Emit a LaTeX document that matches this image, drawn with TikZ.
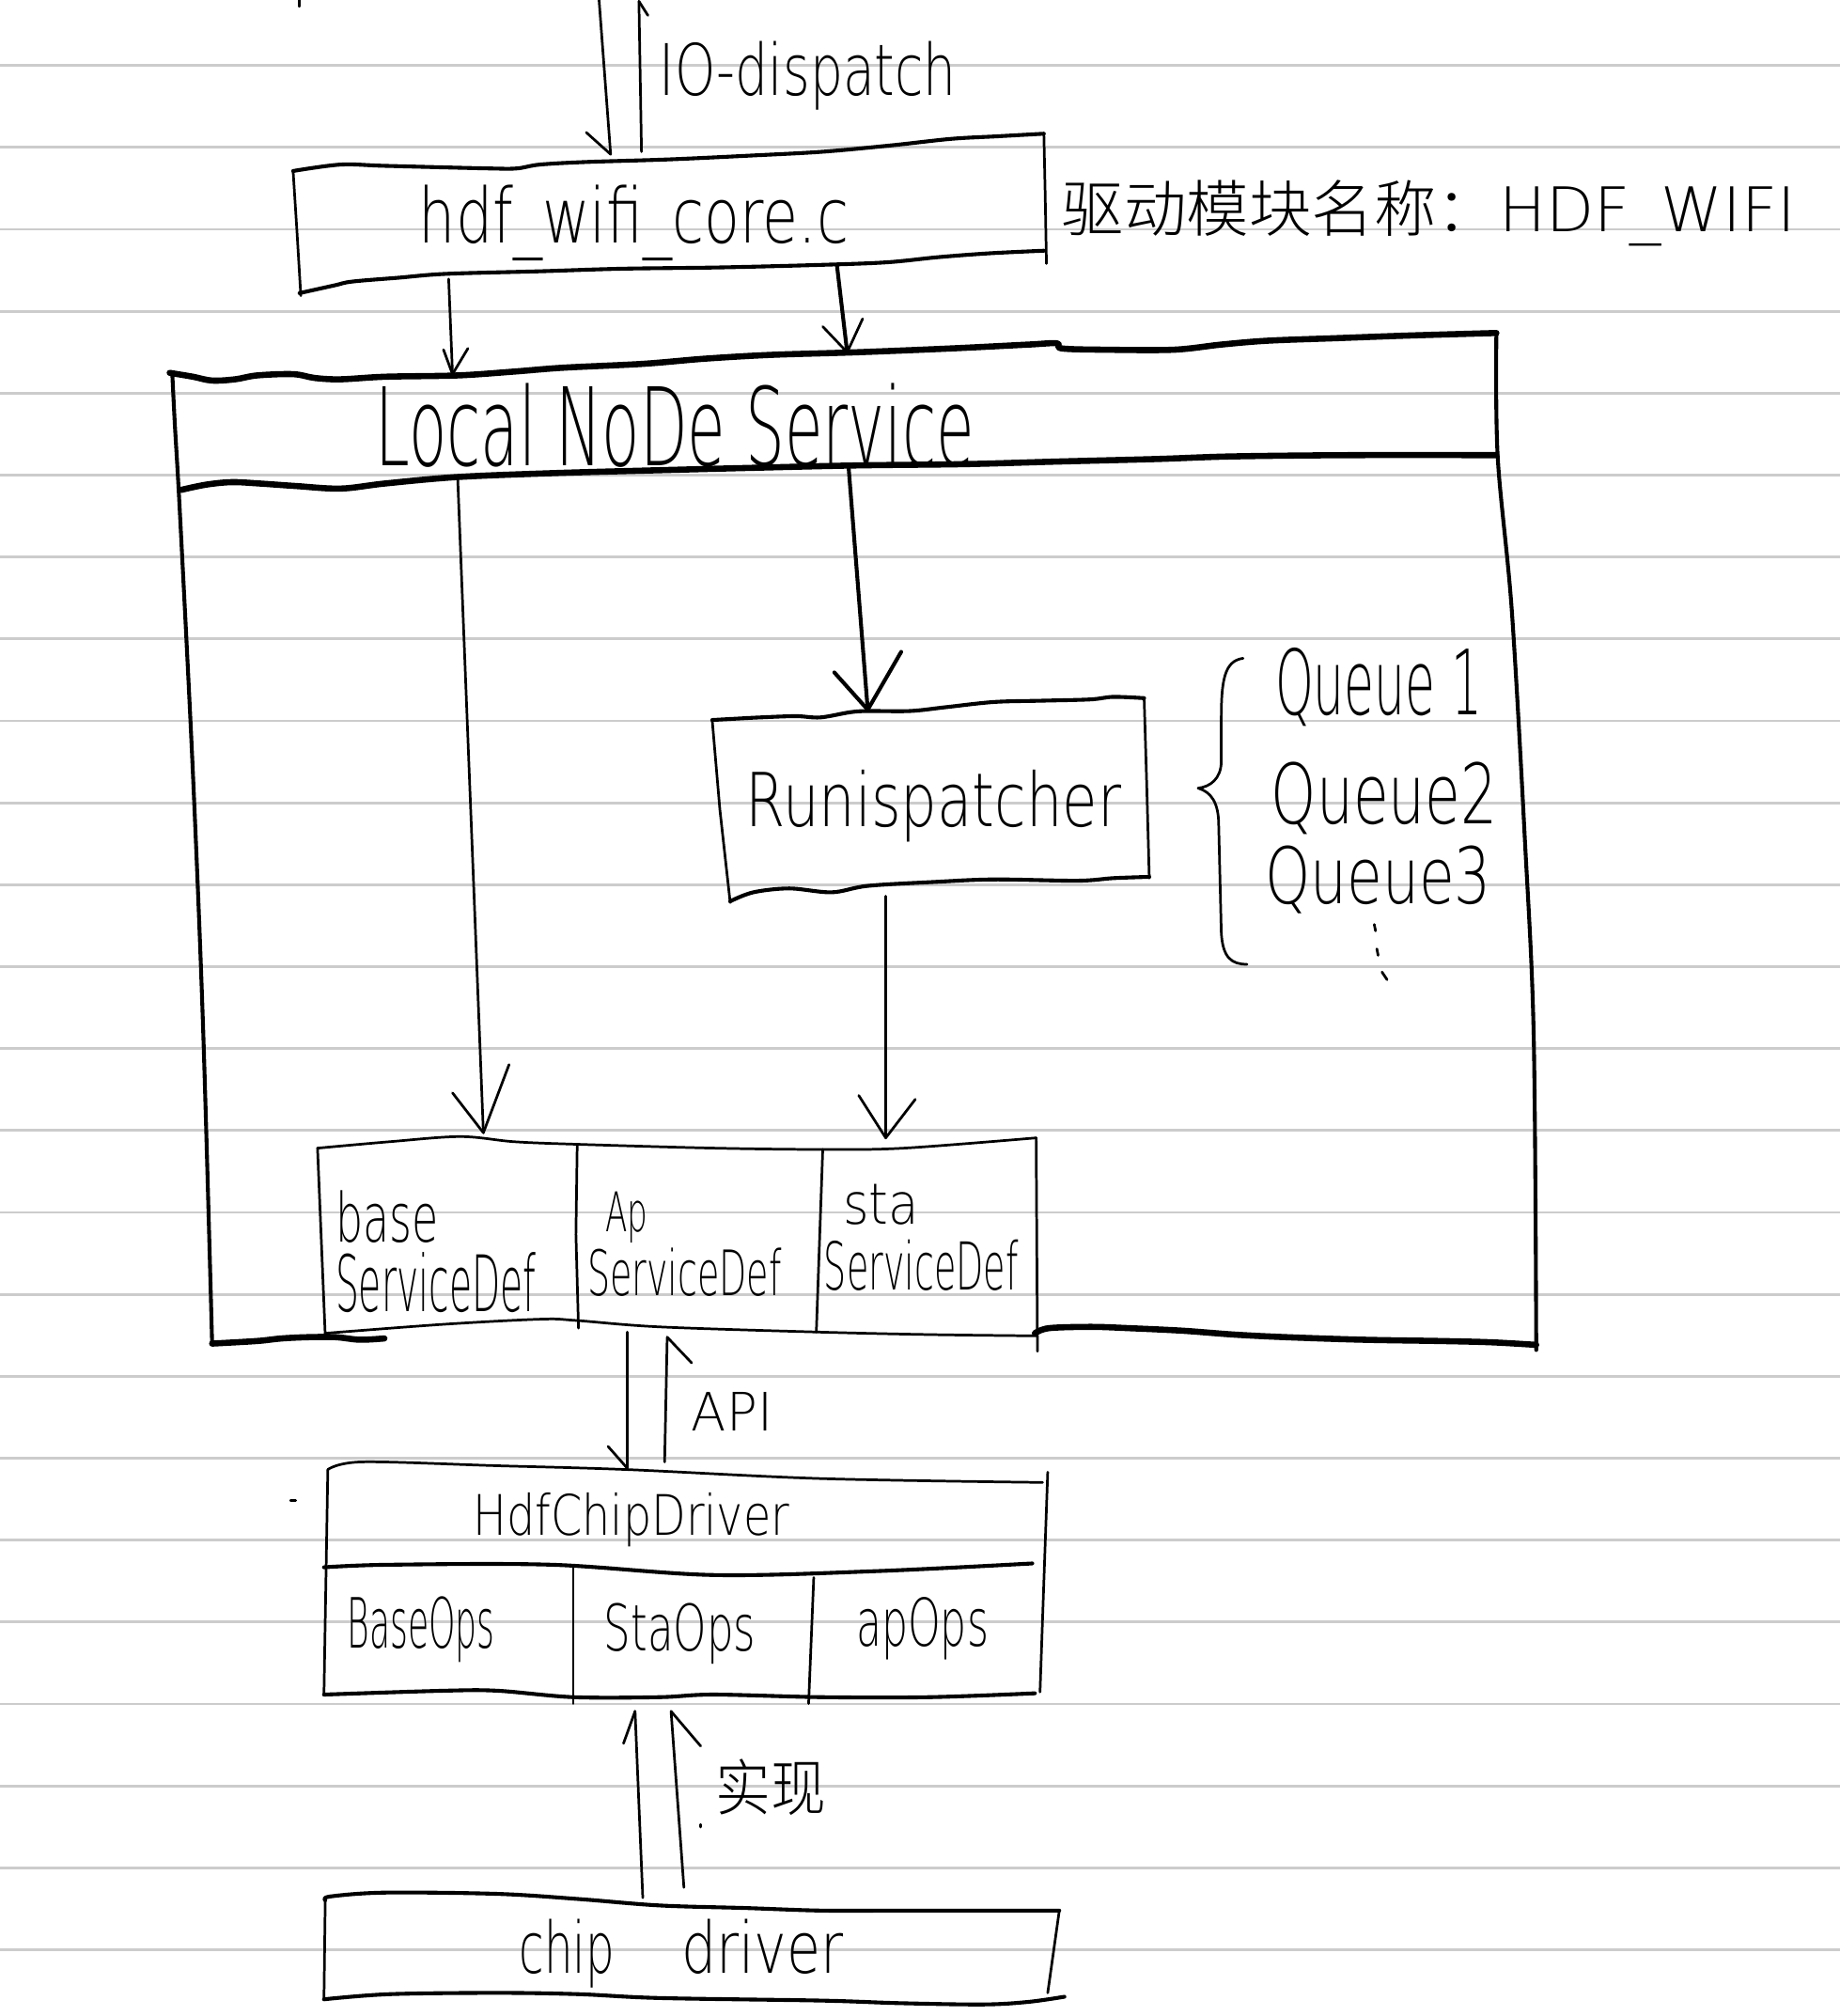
\documentclass[tikz,border=0pt]{standalone}
\usepackage{fontspec}
\usepackage{graphicx}
\setmainfont{DejaVuSans-ExtraLight.ttf}
\IfFontExistsTF{Noto Sans CJK SC Light}{\newfontfamily\cjk{Noto Sans CJK SC Light}}{\newfontfamily\cjk{Noto Sans CJK SC}}
\definecolor{rulegray}{HTML}{CCCCCC}
\newcommand{\hw}[3]{\resizebox{#1pt}{#2pt}{#3}}
\begin{document}
\begin{tikzpicture}[x=1pt,y=-1pt,line cap=round,line join=round,
  rule/.style={draw=rulegray,line width=2pt},
  thinl/.style={draw=black,line width=2pt},
  midl/.style={draw=black,line width=3pt},
  thickl/.style={draw=black,line width=4.8pt},
  wobble/.style={smooth,tension=0.55},
  lbl/.style={inner sep=0pt,outer sep=0pt,anchor=base west}]
\fill[white] (0,0) rectangle (1431,1568);
\useasboundingbox (0,0) rectangle (1431,1568);
\foreach \k in {0,...,23} \draw[rule] (0,{50.9+63.72*\k}) -- (1431,{50.9+63.72*\k});

% ---------- top IO-dispatch arrows ----------
\draw[thinl] (233,0) -- (233,5);
\coordinate (io1s) at (466,0); \coordinate (io1e) at (475,120);
\coordinate (io2s) at (499,118); \coordinate (io2e) at (497,1);
\draw[thinl] (io1s) -- (io1e); \draw[thinl] (456,103) -- (io1e);
\draw[thinl] (io2s) -- (io2e); \draw[thinl] (io2e) -- (504,12);
\node[lbl] (iotext) at (513,74) {\hw{231}{42}{IO-dispatch}};

% ---------- hdf_wifi_core.c box ----------
\draw[midl] plot[wobble] coordinates {(228,133) (265,128) (300,129) (380,131) (402,131) (420,128) (456,126) (520,124) (584,121) (640,118) (694,113) (740,108) (776,106) (812,104)};
\draw[midl] plot[wobble] coordinates {(233,228) (260,222) (274,219) (310,216) (347,213) (420,211) (484,209) (560,208) (639,206) (690,204) (730,200) (770,197) (812,195)};
\draw[thinl] (228,133) -- (231,180) -- (234,230);
\draw[thinl] (812,104) -- (813,150) -- (814,205);
\node[lbl] (hdftext) at (326,189) {\hw{334}{45}{hdf\_wifi\_core.c}};
\node[lbl] (nametext) at (826,180) {\hw{571}{40}{{\cjk 驱动模块名称：}HDF\_WIFI}};

% ---------- arrows hdf -> Local NoDe Service ----------
\coordinate (a1s) at (349,217); \coordinate (a1e) at (352,291);
\draw[thinl] (a1s) -- (a1e); \draw[thinl] (345,272) -- (a1e) -- (364,271);
\coordinate (a2s) at (651,206); \coordinate (a2e) at (659,274);
\draw[midl] (a2s) -- (a2e); \draw[thinl] (640,254) -- (a2e) -- (671,248);

% ---------- Local NoDe Service box ----------
\draw[thickl] plot[wobble] coordinates {(132,290) (150,293) (165,296) (183,295) (200,292) (228,291) (245,294) (265,295) (300,293) (356,292) (400,289) (438,286) (500,283) (548,279) (600,276) (666,274) (740,271) (800,268) (822,267) (826,271) (860,272) (913,272) (950,268) (986,265) (1040,263) (1095,261) (1164,259)};
\draw[thickl] plot[wobble] coordinates {(141,381) (160,377) (180,375) (201,376) (230,378) (265,380) (300,376) (356,371) (430,368) (502,366) (580,364) (666,362) (750,361) (822,359) (900,357) (958,355) (1050,354) (1164,354)};
\draw[midl] plot[wobble] coordinates {(134,290) (136,330) (140,400) (150,600) (158,800) (165,1045)};
\draw[midl] plot[wobble] coordinates {(1164,259) (1165,355) (1176,475) (1186,650) (1193,804) (1195,1050)};
\draw[thickl] plot[wobble] coordinates {(165,1045) (200,1043) (219,1041) (240,1040) (261,1040) (280,1042) (299,1041)};
\draw[thickl] plot[wobble] coordinates {(805,1037) (816,1033) (849,1032) (878,1033) (920,1035) (960,1038) (1000,1040) (1060,1042) (1120,1043) (1160,1044) (1195,1046)};
\node[lbl] (lnstext) at (292,362) {\hw{466}{64}{Local NoDe Service}};

% ---------- inner arrows ----------
\coordinate (b1s) at (356,371); \coordinate (b1e) at (376,881);
\draw[thinl] (b1s) -- (b1e); \draw[thinl] (352,850) -- (b1e) -- (396,828);
\coordinate (b2s) at (660,362); \coordinate (b2e) at (675,552);
\draw[midl] (b2s) -- (b2e); \draw[midl] (649,523) -- (b2e) -- (701,507);
\coordinate (b3s) at (689,697); \coordinate (b3e) at (689,885);
\draw[thinl] (b3s) -- (b3e); \draw[thinl] (668,852) -- (b3e) -- (712,855);

% ---------- Runispatcher box ----------
\draw[midl] plot[wobble] coordinates {(554,560) (572,559) (591,558) (619,557) (638,558) (661,554) (675,553) (708,553) (736,550) (773,546) (810,545) (848,544) (866,542) (890,543)};
\draw[midl] plot[wobble] coordinates {(568,701) (586,694) (614,691) (647,694) (675,689) (726,686) (773,684) (838,685) (866,683) (894,682)};
\draw[thinl] (554,560) -- (560,630) -- (568,702);
\draw[thinl] (890,543) -- (892,610) -- (894,683);
\node[lbl] (runtext) at (580,643) {\hw{292}{44}{Runispatcher}};

% ---------- brace and queues ----------
\draw[thinl] (967,512) .. controls (952,514) and (950,530) .. (950,560) -- (950,592) .. controls (950,606) and (941,612) .. (932,613) .. controls (942,616) and (948,624) .. (948,642) -- (950,725) .. controls (951,745) and (958,750) .. (970,750);
\node[lbl] (q1) at (992,556) {\hw{161}{52}{Queue 1}};
\node[lbl] (q2) at (989,641) {\hw{176}{48}{Queue2}};
\node[lbl] (q3) at (984,703) {\hw{176}{45}{Queue3}};
\draw[thinl] (1069,719) -- (1070,724);
\draw[thinl] (1071,738) -- (1072,743);
\draw[thinl] (1075,756) -- (1079,762);

% ---------- ServiceDef boxes ----------
\draw[thinl] plot[wobble] coordinates {(247,893) (303,888) (358,884) (400,888) (449,890) (556,893) (640,894) (703,893) (806,885)};
\draw[thinl] plot[wobble] coordinates {(253,1037) (345,1030) (421,1026) (448,1027) (513,1032) (635,1036) (723,1038) (807,1039)};
\draw[thinl] (247,893) -- (253,1039);
\draw[thinl] (449,890) -- (448,960) -- (450,1033);
\draw[thinl] (640,894) -- (635,1036);
\draw[thinl] (806,885) -- (807,1051);
\node[lbl] (base1) at (261,966) {\hw{80}{40}{base}};
\node[lbl] (base2) at (261,1020) {\hw{156}{46}{ServiceDef}};
\node[lbl] (ap1) at (471,958) {\hw{33}{31}{Ap}};
\node[lbl] (ap2) at (457,1008) {\hw{151}{37}{ServiceDef}};
\node[lbl] (sta1) at (656,952) {\hw{59}{31}{sta}};
\node[lbl] (sta2) at (641,1003) {\hw{151}{39}{ServiceDef}};

% ---------- API arrows ----------
\coordinate (c1s) at (488,1036); \coordinate (c1e) at (488,1142);
\draw[thinl] (c1s) -- (c1e); \draw[thinl] (473,1125) -- (c1e);
\coordinate (c2s) at (517,1137); \coordinate (c2e) at (519,1040);
\draw[thinl] (c2s) -- (c2e); \draw[thinl] (c2e) -- (538,1060);
\node[lbl] (apitext) at (538,1113) {\hw{63}{30}{API}};

% ---------- HdfChipDriver box ----------
\draw[thinl] (226,1167) -- (230,1167);
\draw[thinl] plot[wobble] coordinates {(255,1143) (282,1137) (387,1140) (488,1143) (639,1150) (811,1153)};
\draw[thinl] (255,1143) -- (252,1318);
\draw[thinl] (815,1145) -- (812,1230) -- (809,1316);
\draw[midl] plot[wobble] coordinates {(252,1219) (303,1217) (429,1217) (555,1225) (681,1222) (803,1216)};
\draw[midl] plot[wobble] coordinates {(252,1318) (345,1315) (387,1315) (446,1320) (513,1320) (555,1318) (639,1320) (723,1320) (805,1317)};
\draw[thinl] (446,1219) -- (446,1325);
\draw[thinl] (633,1227) -- (629,1325);
\node[lbl] (hcd) at (368,1194) {\hw{246}{33}{HdfChipDriver}};
\node[lbl] (bops) at (270,1282) {\hw{115}{40}{BaseOps}};
\node[lbl] (sops) at (470,1284) {\hw{118}{37}{StaOps}};
\node[lbl] (aops) at (666,1280) {\hw{103}{38}{apOps}};

% ---------- implementation arrows ----------
\coordinate (d1s) at (500,1476); \coordinate (d1e) at (494,1331);
\draw[thinl] (d1s) -- (d1e); \draw[thinl] (485,1356) -- (d1e);
\coordinate (d2s) at (532,1468); \coordinate (d2e) at (522,1331);
\draw[thinl] (d2s) -- (d2e); \draw[thinl] (d2e) -- (545,1358);
\draw[thinl] (545,1419) -- (545,1421);
\node[lbl] (impl) at (557,1408) {\hw{86}{40}{\cjk 实现}};

% ---------- chip driver box ----------
\draw[midl] plot[wobble] coordinates {(253,1478) (257,1475) (300,1472) (387,1473) (450,1477) (513,1482) (580,1484) (639,1486) (700,1486) (760,1486) (824,1486)};
\draw[thinl] (253,1478) -- (252,1555);
\draw[thinl] (824,1486) -- (815,1550);
\draw[midl] plot[wobble] coordinates {(252,1555) (303,1551) (387,1550) (450,1551) (513,1554) (639,1556) (700,1558) (765,1559) (800,1557) (828,1553)};
\node[lbl] (chip) at (404,1535) {\hw{74}{42}{chip}};
\node[lbl] (driver) at (530,1535) {\hw{126}{42}{driver}};
\end{tikzpicture}
\end{document}
